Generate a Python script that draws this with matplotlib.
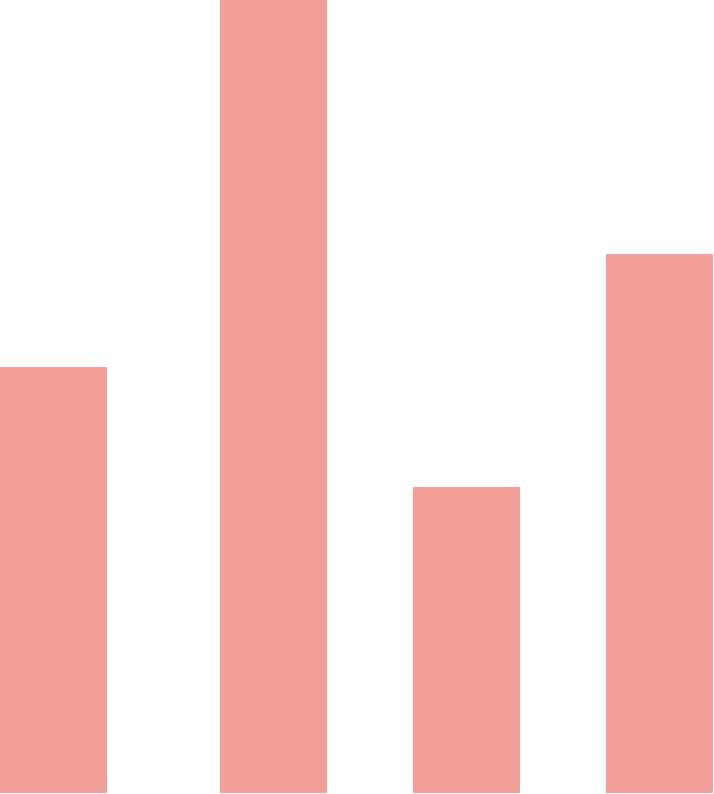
import matplotlib
matplotlib.use("Agg")
import matplotlib.pyplot as plt

categories = ["A", "B", "C", "D"]
values = [53.7, 100.0, 38.6, 68.0]

# layout (pixel-based horizontal positions of bar left edges)
left_edges = [0, 220, 413, 606]
bar_width = 107
color = "#F3A198"

fig = plt.figure(figsize=(7.14, 7.94), dpi=100)
ax = fig.add_axes([0, 1 / 794, 1, 793 / 794])
ax.bar(left_edges, values, width=bar_width, align="edge", color=color, linewidth=0)
ax.set_xlim(0, 714)
ax.set_ylim(0, 100)
ax.axis("off")
fig.savefig("out.png", dpi=100, facecolor="white")
